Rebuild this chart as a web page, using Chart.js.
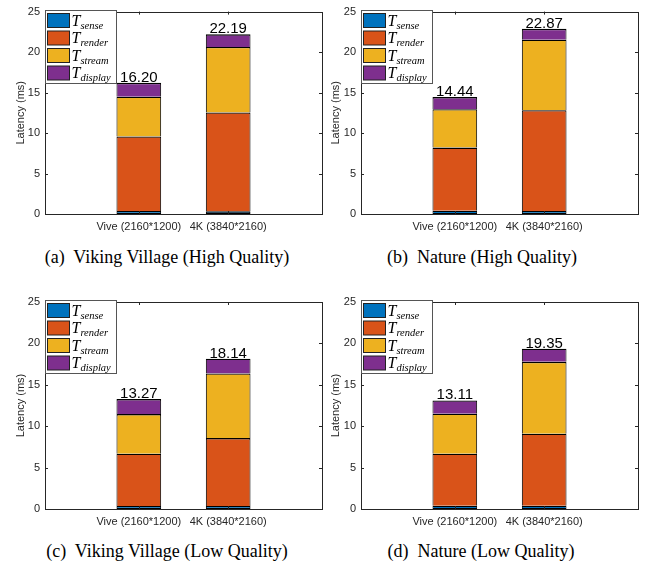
<!DOCTYPE html>
<html>
<head>
<meta charset="utf-8">
<script src="https://cdn.jsdelivr.net/npm/chart.js@4.4.1/dist/chart.umd.min.js"></script>
<style>
    body { margin: 0; background: #fff; width: 649px; height: 567px; position: relative; overflow: hidden; }
    canvas { position: absolute; }
    .legende {
        position: absolute; font-family: "Liberation Serif", serif; font-size: 18px; line-height: 20px;
        color: #000; white-space: pre; transform: translateX(-50%);
    }
</style>
</head>
<body>
<canvas id="ga" width="325" height="245" style="left:0;top:0"></canvas>
<canvas id="gb" width="324" height="245" style="left:325px;top:0"></canvas>
<canvas id="gc" width="325" height="245" style="left:0;top:290px"></canvas>
<canvas id="gd" width="324" height="245" style="left:325px;top:290px"></canvas>
<div class="legende" id="la" style="left:167px;top:247px"></div>
<div class="legende" id="lb" style="left:482px;top:247px"></div>
<div class="legende" id="lc" style="left:167px;top:541px"></div>
<div class="legende" id="ld" style="left:481px;top:541px"></div>
<script>
// ── Données ────────────────────────────────────────────────────────────────
const CATEGORIES  = ['Vive (2160*1200)', '4K (3840*2160)'];
const COMPOSANTES = ['sense', 'render', 'stream', 'display'];
const COULEURS    = ['#0072BD', '#D95319', '#EDB120', '#7E2F8E'];
const Y_TICKS     = [0, 5, 10, 15, 20, 25];
const TITRES      = [
    '(a)  Viking Village (High Quality)',
    '(b)  Nature (High Quality)',
    '(c)  Viking Village (Low Quality)',
    '(d)  Nature (Low Quality)',
];

// Viking Village, haute qualité
const senseVH   = [0.37, 0.33];
const renderVH  = [9.21, 12.22];
const streamVH  = [4.91, 8.07];
const displayVH = [1.71, 1.57];

// Nature, haute qualité
const senseNH   = [0.40, 0.37];
const renderNH  = [7.80, 12.46];
const streamNH  = [4.75, 8.69];
const displayNH = [1.49, 1.35];

// Viking Village, basse qualité
const senseVL   = [0.36, 0.36];
const renderVL  = [6.31, 8.20];
const streamVL  = [4.79, 7.81];
const displayVL = [1.81, 1.77];

// Nature, basse qualité
const senseNL   = [0.40, 0.40];
const renderNL  = [6.27, 8.69];
const streamNL  = [4.83, 8.68];
const displayNL = [1.61, 1.58];

const X_MIN = -0.05, X_MAX = 3.05;
const COULEUR_AXE = '#262626';
const policeAxe = { family: 'Liberation Sans', size: 11 };

// ── Plugins ────────────────────────────────────────────────────────────────
const cadre = {
    id: 'cadre',
    afterDatasetsDraw(chart) {
        const { ctx, chartArea: a, scales } = chart;
        ctx.save();
        ctx.strokeStyle = COULEUR_AXE;
        ctx.lineWidth = 1;
        ctx.beginPath();
        scales.y.ticks.forEach(t => {
            const y = Math.round(scales.y.getPixelForValue(t.value)) + 0.5;
            ctx.moveTo(a.left, y);  ctx.lineTo(a.left + 3, y);
            ctx.moveTo(a.right, y); ctx.lineTo(a.right - 3, y);
        });
        scales.x.ticks.forEach(t => {
            const x = Math.round(scales.x.getPixelForValue(t.value)) + 0.5;
            ctx.moveTo(x, a.bottom); ctx.lineTo(x, a.bottom - 3);
            ctx.moveTo(x, a.top);    ctx.lineTo(x, a.top + 3);
        });
        ctx.stroke();
        ctx.strokeRect(Math.round(a.left) + 0.5, Math.round(a.top) + 0.5,
                       Math.round(a.width), Math.round(a.height));
        ctx.restore();
    }
};

const totaux = {
    id: 'totaux',
    afterDatasetsDraw(chart) {
        const { ctx } = chart;
        const dernier = chart.getDatasetMeta(chart.data.datasets.length - 1);
        ctx.save();
        ctx.font = '15px "Liberation Sans"';
        ctx.fillStyle = '#000';
        ctx.textAlign = 'center';
        ctx.textBaseline = 'alphabetic';
        dernier.data.forEach((barre, j) => {
            const total = chart.data.datasets.reduce((s, d) => s + d.data[j].y, 0);
            ctx.fillText(total.toFixed(2), barre.x, barre.y - 1);
        });
        ctx.restore();
    }
};

const legendeMaths = {
    id: 'legendeMaths',
    afterDatasetsDraw(chart) {
        const { ctx, chartArea: a } = chart;
        const g = Math.round(a.left) + 0.5, h = Math.round(a.top) - 1.5;
        ctx.save();
        ctx.fillStyle = '#fff';
        ctx.strokeStyle = '#555';
        ctx.lineWidth = 1;
        ctx.fillRect(g, h, 71, 73);
        ctx.strokeRect(g, h, 71, 73);
        COMPOSANTES.forEach((nom, i) => {
            const y = h + 3 + i * 17.5;
            ctx.fillStyle = COULEURS[i];
            ctx.fillRect(g + 2, y, 22, 14);
            ctx.strokeStyle = '#222';
            ctx.strokeRect(g + 2, y, 22, 14);
            ctx.fillStyle = '#000';
            ctx.font = 'italic 16px "Liberation Serif"';
            ctx.fillText('T', g + 26, y + 12);
            const l = ctx.measureText('T').width;
            ctx.font = 'italic 10.5px "Liberation Serif"';
            ctx.fillText(nom, g + 26 + l, y + 15);
        });
        ctx.restore();
    }
};

// ── Graphiques ─────────────────────────────────────────────────────────────
function creerPanneau(id, series, zone) {
    const canvas = document.getElementById(id);
    const datasets = COMPOSANTES.map((nom, i) => ({
        label: nom,
        data: series[i].map((v, j) => ({ x: j + 1, y: v })),
        backgroundColor: COULEURS[i],
        borderColor: '#000',
        borderWidth: { top: 1.3, left: 1, right: 1, bottom: i === 0 ? 1 : 0 },
        borderSkipped: false,
        barPercentage: 0.5,
        categoryPercentage: 1,
    }));

    new Chart(canvas, {
        type: 'bar',
        data: { datasets },
        options: {
            responsive: false,
            animation: false,
            layout: { padding: { left: 0, top: zone.haut, right: canvas.width - zone.droite, bottom: 0 } },
            plugins: { legend: { display: false }, tooltip: { enabled: false } },
            scales: {
                x: {
                    type: 'linear', stacked: true, offset: false, min: X_MIN, max: X_MAX,
                    grid: { display: false, drawTicks: false }, border: { display: false },
                    afterBuildTicks: s => { s.ticks = CATEGORIES.map((c, i) => ({ value: i + 1 })); },
                    ticks: {
                        callback: v => CATEGORIES[v - 1] ?? '',
                        font: policeAxe, color: COULEUR_AXE, padding: 6, maxRotation: 0, autoSkip: false,
                    },
                    afterFit: s => { s.height = canvas.height - zone.bas; },
                },
                y: {
                    stacked: true, min: 0, max: 25,
                    grid: { display: false, drawTicks: false }, border: { display: false },
                    afterBuildTicks: s => { s.ticks = Y_TICKS.map(v => ({ value: v })); },
                    ticks: { font: policeAxe, color: COULEUR_AXE, padding: 5 },
                    title: {
                        display: true, text: 'Latency (ms)', font: policeAxe, color: COULEUR_AXE,
                        padding: { top: zone.titre, bottom: 0 },
                    },
                    afterFit: s => { s.width = zone.gauche; },
                },
            },
        },
        plugins: [cadre, totaux, legendeMaths],
    });
}

document.addEventListener('DOMContentLoaded', () => {
    creerPanneau('ga', [senseVH, renderVH, streamVH, displayVH], { gauche: 45, droite: 322, haut: 9,  bas: 214, titre: 14 });
    creerPanneau('gb', [senseNH, renderNH, streamNH, displayNH], { gauche: 36, droite: 313, haut: 9,  bas: 214, titre: 4 });
    creerPanneau('gc', [senseVL, renderVL, streamVL, displayVL], { gauche: 45, droite: 322, haut: 12, bas: 219, titre: 14 });
    creerPanneau('gd', [senseNL, renderNL, streamNL, displayNL], { gauche: 36, droite: 313, haut: 12, bas: 219, titre: 4 });

    ['la', 'lb', 'lc', 'ld'].forEach((id, i) => { document.getElementById(id).textContent = TITRES[i]; });
});
</script>
</body>
</html>
